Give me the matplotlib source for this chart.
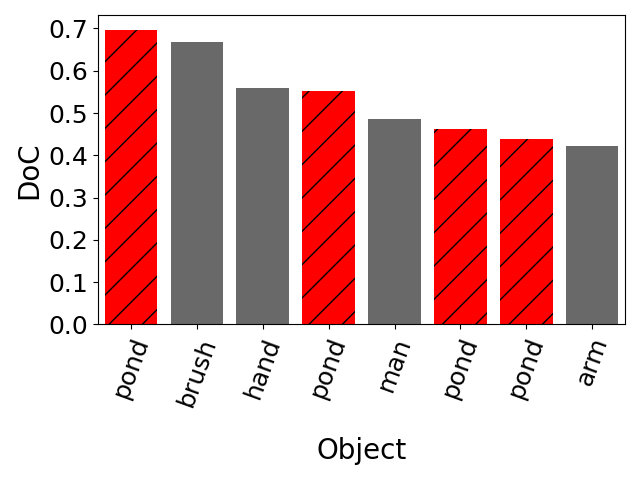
import matplotlib
matplotlib.use('Agg')
import matplotlib.pyplot as plt
import numpy as np

objects = ['pond', 'brush', 'hand', 'pond', 'man', 'pond', 'pond', 'arm']
doc = [0.697, 0.669, 0.560, 0.553, 0.486, 0.463, 0.439, 0.422]

fig, ax = plt.subplots(figsize=(6.4, 4.8), dpi=100)
x = np.arange(len(objects))
for i, (name, v) in enumerate(zip(objects, doc)):
    if name == 'pond':
        ax.bar(i, v, width=0.8, color='red', hatch='/', edgecolor='black', linewidth=0)
    else:
        ax.bar(i, v, width=0.8, color='dimgray', linewidth=0)

ax.set_xlim(-0.5, len(objects) - 0.5)
ax.set_yticks(np.arange(0, 0.71, 0.1))
ax.set_xticks(x)
ax.set_xticklabels(objects, rotation=70, fontsize=18)
ax.tick_params(axis='y', labelsize=18)
ax.set_xlabel('Object', fontsize=20, labelpad=20)
ax.set_ylabel('DoC', fontsize=20)
plt.tight_layout()
plt.savefig('out.png')
